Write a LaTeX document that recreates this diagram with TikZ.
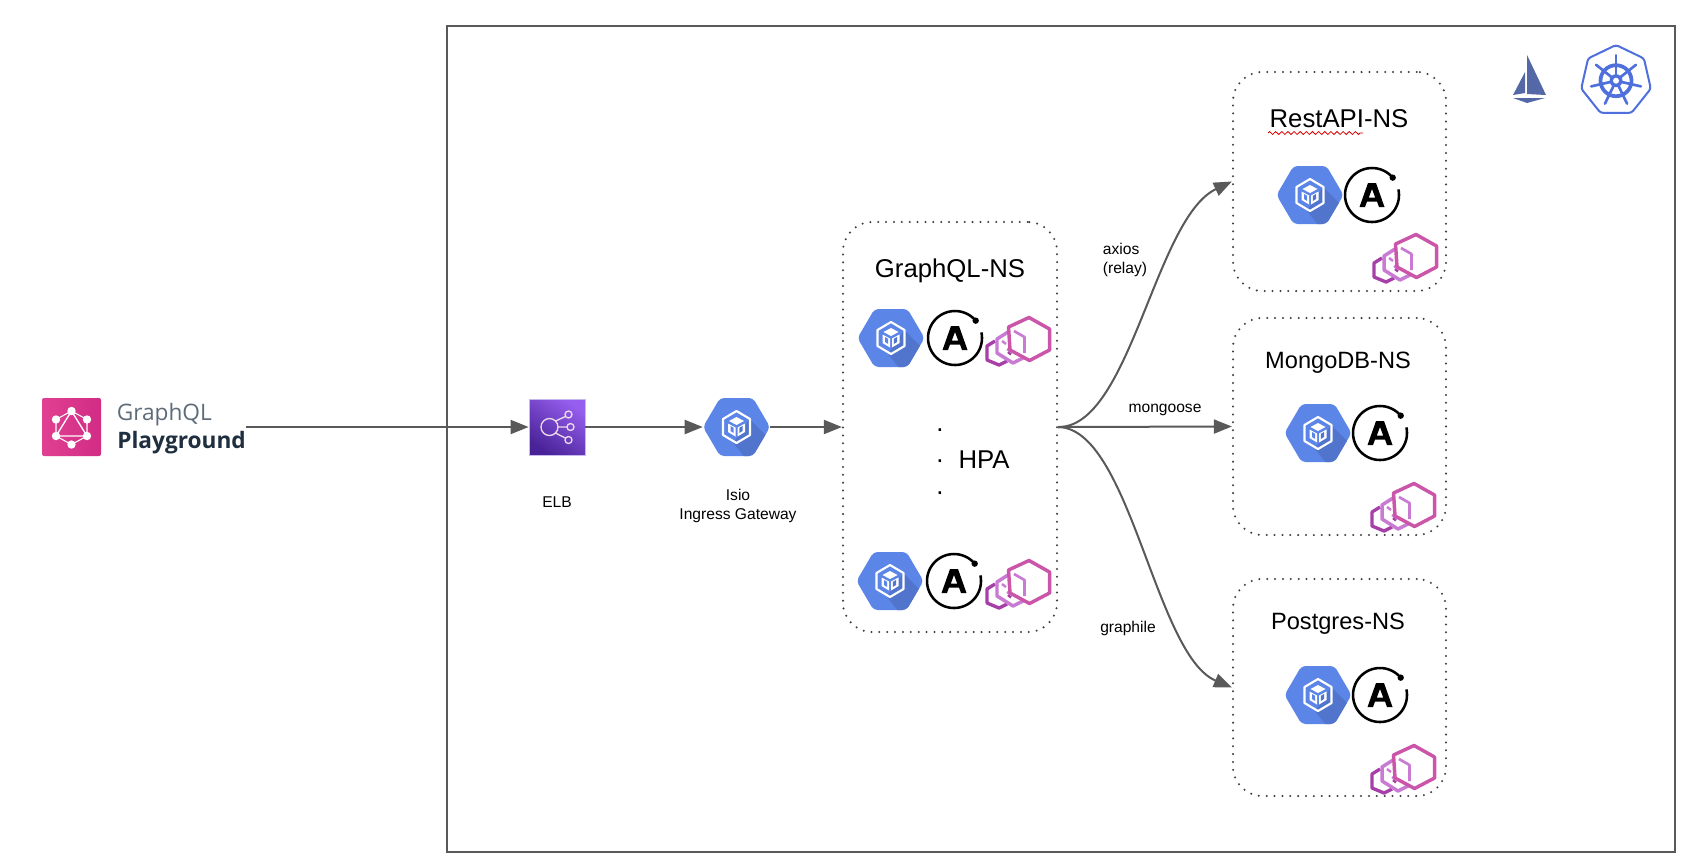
\documentclass[tikz,border=0pt]{standalone}
\usepackage{fontspec}
\setmainfont{Liberation Sans}
\newfontfamily\osans{Open Sans}
\usetikzlibrary{arrows.meta,decorations.pathmorphing}
\definecolor{linegray}{HTML}{595959}
\definecolor{dotgray}{HTML}{3F3F3F}
\definecolor{gkeblue}{HTML}{5C85E8}
\definecolor{gkedark}{HTML}{5175CC}
\definecolor{envfront}{HTML}{CB55A8}
\definecolor{envmid}{HTML}{C97BD3}
\definecolor{envback}{HTML}{A63FA8}
\definecolor{kubeblue}{HTML}{4F6FDC}
\definecolor{sailblue}{HTML}{5468A8}
\definecolor{pgtext}{HTML}{1F2F3F}
\definecolor{pglight}{HTML}{5E6C7A}
\tikzset{
  conn/.style={draw=linegray,line width=1.5pt,-{Triangle[length=13.5pt,width=10.5pt]}},
  nsbox/.style={draw=dotgray,line width=1.7pt,rounded corners=22pt,line cap=round,dash pattern=on 0pt off 5.9pt,inner sep=0pt},
  bigtext/.style={font=\fontsize{19.3pt}{23pt}\selectfont,text=black,inner sep=0pt},
  midtext/.style={font=\fontsize{17.7pt}{21pt}\selectfont,text=black,inner sep=0pt},
  smalltext/.style={font=\fontsize{11.7pt}{14.25pt}\selectfont,text=black,inner sep=0pt},
  gke/.pic={
    \path[fill=gkeblue,rounded corners=3pt] (-33.5,0)--(-16.5,-29)--(16.5,-29)--(33.5,0)--(16.5,29)--(-16.5,29)--cycle;
    \begin{scope}
      \clip[rounded corners=3pt] (-33.5,0)--(-16.5,-29)--(16.5,-29)--(33.5,0)--(16.5,29)--(-16.5,29)--cycle;
      \fill[gkedark] (13,-8)--(45,24)--(45,45)--(20,45)--(-3,16)--cycle;
    \end{scope}
    \draw[white,line width=1.6pt,line join=round] (0,-16)--(13.5,-8)--(13.5,8)--(0,16)--(-13.5,8)--(-13.5,-8)--cycle;
    \fill[white] (0,-10)--(7.5,-6)--(0,-2)--(-7.5,-6)--cycle;
    \fill[white] (-8.5,-3.5)--(-1,0.5)--(-1,9.5)--(-8.5,5)--cycle;
    \fill[white] (8.5,-3.5)--(1,0.5)--(1,9.5)--(8.5,5)--cycle;
    \fill[gkeblue] (-6,-1)--(-2.8,0.8)--(-2.8,6)--(-6,4)--cycle;
    \fill[gkedark] (6,-1)--(2.8,0.8)--(2.8,6)--(6,4)--cycle;
  },
  anthos/.pic={
    \draw[black,line width=1.9pt] plot[domain=40:372,samples=60] ({27*cos(\x)},{-27*sin(\x)});
    \fill[black] ({27*cos(40)},{-27*sin(40)}) circle (3.2);
    \fill[black,even odd rule] (-12.5,12)--(-4,-12)--(4,-12)--(12.5,12)--(7,12)--(5,6.5)--(-5,6.5)--(-7,12)--cycle
      (0,-6)--(3.2,2.5)--(-3.2,2.5)--cycle;
  },
  envoy/.pic={
    \draw[envback,line width=2.5pt,line join=round] (-34,2)--(-42,7)--(-42,21)--(-30,26)--(-22,22);
    \draw[envback,line width=1.8pt] (-21,13)--(-18,15.5);
    \draw[envmid,line width=2.6pt,line join=round] (-21,-7)--(-32,0)--(-32,14)--(-16,24)--(-6,19);
    \draw[envmid,line width=1.8pt] (-27,2)--(-23,5) (-22,10)--(-19,12);
    \draw[envfront,line width=2.6pt,line join=round] (0,-21.5)--(20.5,-10)--(20.5,11)--(0.5,21.5)--(-19,11)--(-20.5,-12)--cycle;
    \draw[envmid,line width=2pt,line join=round] (-15,-8)--(-4.5,-2)--(-4.5,14);
  }
}
\begin{document}
\begin{tikzpicture}[x=0.75pt,y=-0.75pt]
\useasboundingbox (0,0) rectangle (1690,865);
\fill[white] (0,0) rectangle (1690,865);
% frame
\node[draw=linegray,line width=1.5pt,minimum width=921pt,minimum height=619.5pt,inner sep=0pt] (frame) at (1061,439) {};
% GraphQL Playground logo
\node[inner sep=0pt,minimum width=44.25pt,minimum height=43.5pt,rounded corners=1.5pt,left color={rgb,255:red,224;green,64;blue,145},right color={rgb,255:red,210;green,44;blue,133}] (pglogo) at (71.5,427) {};
\begin{scope}[shift={(71.5,427.5)}]
  \draw[white,line width=0.8pt] (0,-16.5)--(15.5,-8)--(15.5,8.5)--(0,17)--(-15.5,8.5)--(-15.5,-8)--cycle;
  \draw[white,line width=1pt] (0,-16.5)--(15.5,8.5)--(-15.5,8.5)--cycle;
  \foreach \a/\b in {0/-16.5,15.5/-8,15.5/8.5,0/17,-15.5/8.5,-15.5/-8} \fill[white] (\a,\b) circle (4.2);
\end{scope}
\node[font=\osans\fontsize{17pt}{20pt}\selectfont,text=pglight,anchor=west,inner sep=0pt] (pgname) at (116.5,415) {GraphQL};
\node[font=\osans\bfseries\fontsize{17pt}{20pt}\selectfont,text=pgtext,anchor=west,inner sep=0pt] (pgplay) at (117,443) {Playground};
\coordinate (pgend) at (246,427);
% ELB
\node[draw={rgb,255:red,200;green,184;blue,240},line width=0.6pt,inner sep=0pt,minimum width=42pt,minimum height=42pt,top color={rgb,255:red,150;green,94;blue,238},bottom color={rgb,255:red,72;green,34;blue,150},shading angle=-35] (elb) at (557,427) {};
\draw[white!85!violet,line width=1pt] (549.5,427) circle (8.5) (568.5,414.5) circle (3.5) (570.5,427) circle (3.5) (568.5,440) circle (3.5)
  (555.5,421)--(565.5,416.5) (558,427)--(567,427) (555.5,433)--(565.5,438);
\node[smalltext] (elbl) at (557,502) {ELB};
% gateway
\node[inner sep=0pt,minimum width=50.25pt,minimum height=43.5pt] (gw) at (736.5,427) {};
\pic at (736.5,427) {gke};
\node[smalltext,align=center] (gwl) at (738,506) {Isio\\Ingress Gateway};
% namespace boxes
\node[nsbox,minimum width=160.5pt,minimum height=307.5pt] (gql) at (950,427) {};
\node[nsbox,minimum width=159.75pt,minimum height=164.25pt] (rest) at (1339.5,181.5) {};
\node[nsbox,minimum width=159.75pt,minimum height=162.75pt] (mongo) at (1339.5,426.5) {};
\node[nsbox,minimum width=159.75pt,minimum height=162.75pt] (pgres) at (1339.5,687.5) {};
\node[bigtext] (gqlt) at (950,270.5) {GraphQL-NS};
\node[bigtext] (restt) at (1339,119) {RestAPI-NS};
\node[midtext] (mongot) at (1338,363) {MongoDB-NS};
\node[midtext] (pgrest) at (1338,624) {Postgres-NS};
\draw[red!85!black,line width=0.6pt,decorate,decoration={zigzag,segment length=4.6pt,amplitude=1.1pt}] (1268,133)--(1363,133);
% icons
\pic at (891,338) {gke}; \pic at (955,338) {anthos}; \pic at (1029,339) {envoy};
\pic at (890,581) {gke}; \pic at (954,581) {anthos}; \pic at (1029,582) {envoy};
\pic at (1310,195) {gke}; \pic at (1372,195) {anthos}; \pic at (1416,256) {envoy};
\pic at (1318,433) {gke}; \pic at (1380,433) {anthos}; \pic at (1414,505) {envoy};
\pic at (1318,695) {gke}; \pic at (1380,695) {anthos}; \pic at (1414,767) {envoy};
% HPA
\node[bigtext] (hpa) at (984,460) {HPA};
\node[bigtext,anchor=base] (dota) at (940,431) {.};
\node[bigtext,anchor=base] (dotb) at (940,462) {.};
\node[bigtext,anchor=base] (dotc) at (940,494) {.};
% connectors
\draw[conn] (pgend) -- (elb.west);
\draw[conn] (elb.east) -- (gw.west);
\draw[conn] (gw.east) -- (gql.west);
\draw[conn] (gql.east) .. controls (1130,428) and (1155,218) .. (rest.west);
\draw[conn] (gql.east) -- (mongo.west);
\draw[conn] (gql.east) .. controls (1130,428) and (1155,655) .. (pgres.west);
\node[smalltext,align=left] (axios) at (1125,260) {axios\\(relay)};
\node[smalltext] (mong) at (1165,410) {mongoose};
\node[smalltext] (graph) at (1128,628) {graphile};
% istio
\fill[sailblue] (1527,55)--(1546,95)--(1527,94)--cycle (1525,72)--(1513,95)--(1525,93)--cycle (1513,98)--(1545,98)--(1527,103)--cycle;
% kubernetes
\begin{scope}[shift={(1616,80.7)}]
  \draw[kubeblue,line width=1.5pt,rounded corners=2pt] plot[domain=0:6,samples=7] ({35.7*sin(\x*360/7)},{-35.7*cos(\x*360/7)}) -- cycle;
  \draw[kubeblue,line width=2.8pt] (0,0) circle (15.5);
  \foreach \a in {0,1,...,6} \draw[kubeblue,line width=2pt,line cap=round] (0,0)--({25.5*sin(\a*360/7)},{-25.5*cos(\a*360/7)});
  \fill[kubeblue] (0,0) circle (6.5);
  \fill[white] (0,0) circle (3);
\end{scope}
\end{tikzpicture}
\end{document}
